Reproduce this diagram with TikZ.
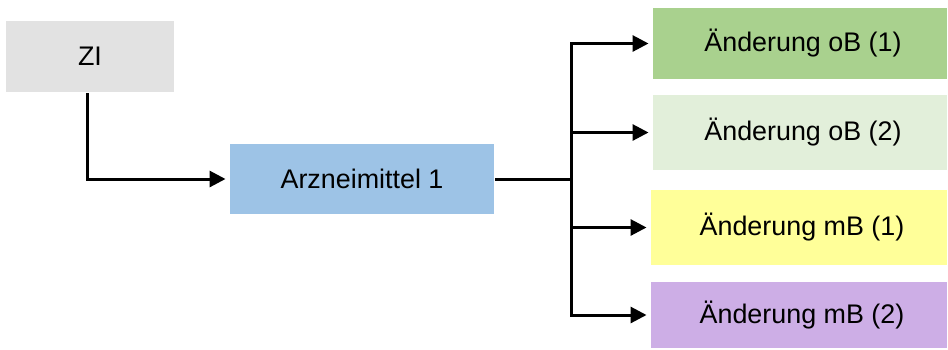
\documentclass[tikz,border=0pt]{standalone}
\usepackage{fontspec}
\setmainfont{Liberation Sans}
\usetikzlibrary{arrows.meta}
\definecolor{ziGray}{HTML}{E2E2E2}
\definecolor{amBlue}{HTML}{9DC3E6}
\definecolor{obGreen}{HTML}{A9D18E}
\definecolor{obLight}{HTML}{E2EFDA}
\definecolor{mbYellow}{HTML}{FFFF99}
\definecolor{mbViolet}{HTML}{CDAEE6}
\begin{document}
\begin{tikzpicture}[x=0.02cm, y=-0.02cm, line width=0.06cm,
	box/.style = {inner sep=0pt, font=\fontsize{15.3}{18}\selectfont},
	arr/.style = {-{Triangle[length=0.32cm, width=0.32cm]}, shorten >=0.06cm}]
		\useasboundingbox (0,0) rectangle (948,349);
		\node[box, fill=ziGray, minimum width=3.36cm, minimum height=1.42cm] (zi) at (90,56.5) {ZI};
		\node[box, fill=amBlue, minimum width=5.28cm, minimum height=1.4cm] (am) at (362,179) {Arzneimittel 1};
		\node[box, fill=obGreen, minimum width=5.88cm, minimum height=1.42cm] (ob1) at (800,43.5) {\hspace{0.12cm}Änderung oB (1)};
		\node[box, fill=obLight, minimum width=5.88cm, minimum height=1.5cm] (ob2) at (800,132.5) {\hspace{0.12cm}Änderung oB (2)};
		\node[box, fill=mbYellow, minimum width=5.92cm, minimum height=1.5cm] (mb1) at (799,227.5) {\hspace{0.12cm}Änderung mB (1)};
		\node[box, fill=mbViolet, minimum width=5.92cm, minimum height=1.32cm] (mb2) at (799,315) {\hspace{0.12cm}Änderung mB (2)};
		\coordinate (split) at (571,179);
		
		\draw[arr] (zi.south -| 87,0) |- (am.west);
		\draw (am.east) -- (split);
		\draw[arr] (split) |- (ob1.west);
		\draw[arr] (split) |- (ob2.west);
		\draw[arr] (split) |- (mb1.west);
		\draw[arr] (split) |- (mb2.west);
	\end{tikzpicture}
\end{document}
